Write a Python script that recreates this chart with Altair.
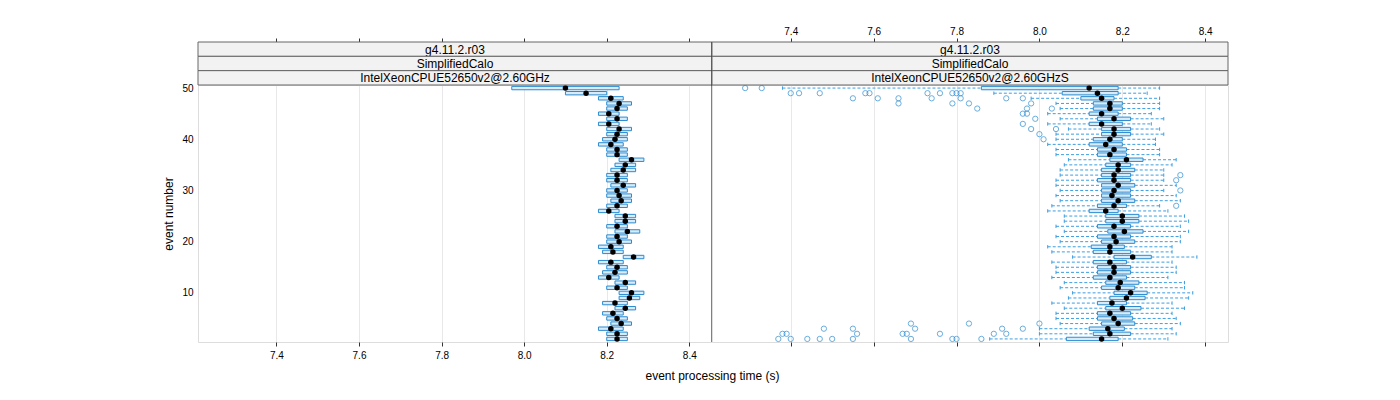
import altair as alt
import pandas as pd

# ---------------- data ----------------
events = list(range(1, 51))

# left panel: IntelXeonCPUE52650v2@2.60GHz  (events 1..50)
left_q1 = [8.20, 8.20, 8.18, 8.21, 8.20, 8.19, 8.22, 8.19, 8.23, 8.23,
           8.20, 8.22, 8.18, 8.19, 8.20, 8.18, 8.24, 8.19, 8.18, 8.20,
           8.20, 8.22, 8.20, 8.22, 8.22, 8.18, 8.20, 8.21, 8.20, 8.20,
           8.21, 8.20, 8.20, 8.21, 8.22, 8.23, 8.20, 8.20, 8.18, 8.19,
           8.20, 8.20, 8.18, 8.20, 8.18, 8.20, 8.20, 8.18, 8.10, 7.97]
left_med = [8.225, 8.225, 8.21, 8.235, 8.225, 8.215, 8.245, 8.22, 8.255, 8.26,
            8.225, 8.245, 8.205, 8.22, 8.225, 8.21, 8.265, 8.215, 8.21, 8.23,
            8.225, 8.25, 8.225, 8.245, 8.245, 8.205, 8.225, 8.235, 8.23, 8.225,
            8.24, 8.225, 8.225, 8.24, 8.245, 8.26, 8.225, 8.225, 8.21, 8.22,
            8.225, 8.23, 8.205, 8.225, 8.205, 8.225, 8.23, 8.21, 8.15, 8.10]
left_q3 = [8.25, 8.25, 8.24, 8.26, 8.25, 8.24, 8.27, 8.25, 8.28, 8.29,
           8.25, 8.27, 8.23, 8.25, 8.25, 8.24, 8.29, 8.24, 8.24, 8.26,
           8.25, 8.28, 8.25, 8.27, 8.27, 8.23, 8.25, 8.26, 8.26, 8.25,
           8.27, 8.25, 8.25, 8.27, 8.27, 8.29, 8.25, 8.25, 8.24, 8.25,
           8.25, 8.26, 8.23, 8.25, 8.23, 8.25, 8.26, 8.24, 8.20, 8.23]

# right panel: IntelXeonCPUE52650v2@2.60GHzS  (events 1..50)
right_lo = [7.88, 8.00, 8.00, 8.05, 8.04, 8.04, 8.06, 8.03, 8.07, 8.08,
            8.05, 8.06, 8.03, 8.04, 8.04, 8.03, 8.08, 8.03, 8.02, 8.05,
            8.04, 8.06, 8.04, 8.06, 8.06, 8.02, 8.03, 8.05, 8.04, 8.05,
            8.04, 8.04, 8.05, 8.05, 8.06, 8.07, 8.04, 8.04, 8.02, 8.04,
            8.04, 8.07, 8.02, 8.05, 8.02, 8.05, 8.04, 7.98, 7.89, 7.38]
right_q1 = [8.065, 8.13, 8.12, 8.15, 8.14, 8.14, 8.16, 8.14, 8.17, 8.18,
            8.15, 8.16, 8.13, 8.14, 8.14, 8.13, 8.18, 8.13, 8.125, 8.15,
            8.14, 8.165, 8.14, 8.16, 8.16, 8.12, 8.14, 8.15, 8.15, 8.15,
            8.15, 8.14, 8.15, 8.15, 8.16, 8.17, 8.14, 8.14, 8.12, 8.13,
            8.15, 8.15, 8.12, 8.14, 8.12, 8.13, 8.13, 8.10, 8.055, 7.86]
right_med = [8.15, 8.17, 8.165, 8.19, 8.18, 8.17, 8.20, 8.175, 8.21, 8.22,
             8.19, 8.195, 8.17, 8.18, 8.18, 8.17, 8.225, 8.17, 8.17, 8.185,
             8.18, 8.205, 8.18, 8.20, 8.20, 8.16, 8.18, 8.19, 8.175, 8.18,
             8.19, 8.18, 8.18, 8.19, 8.19, 8.21, 8.17, 8.18, 8.16, 8.17,
             8.18, 8.18, 8.15, 8.18, 8.15, 8.17, 8.17, 8.15, 8.14, 8.12]
right_q3 = [8.19, 8.22, 8.205, 8.23, 8.225, 8.22, 8.245, 8.21, 8.255, 8.26,
            8.23, 8.24, 8.21, 8.22, 8.22, 8.21, 8.27, 8.22, 8.205, 8.23,
            8.22, 8.25, 8.22, 8.24, 8.24, 8.19, 8.21, 8.23, 8.22, 8.22,
            8.23, 8.22, 8.22, 8.23, 8.22, 8.25, 8.21, 8.21, 8.20, 8.20,
            8.22, 8.22, 8.20, 8.22, 8.19, 8.20, 8.20, 8.18, 8.19, 8.19]
right_hi = [8.31, 8.33, 8.32, 8.34, 8.33, 8.32, 8.35, 8.32, 8.36, 8.37,
            8.35, 8.35, 8.31, 8.33, 8.33, 8.32, 8.38, 8.32, 8.32, 8.34,
            8.34, 8.36, 8.34, 8.36, 8.35, 8.31, 8.29, 8.34, 8.33, 8.30,
            8.33, 8.30, 8.30, 8.30, 8.32, 8.33, 8.29, 8.29, 8.28, 8.28,
            8.30, 8.29, 8.27, 8.30, 8.27, 8.29, 8.29, 8.29, 8.26, 8.29]

outlier_event = ([1] * 10 + [2] * 8 + [3] * 5 + [4] * 3 + [27, 30, 32, 33]
                 + [40, 41, 42, 42, 43, 44, 45, 45] + [46] * 3 + [47] * 4
                 + [48] * 7 + [49] * 10 + [50] * 2)
outlier_time = ([7.37, 7.40, 7.44, 7.47, 7.50, 7.55, 7.69, 7.79, 7.80, 7.86]
                + [7.38, 7.39, 7.56, 7.67, 7.68, 7.76, 7.89, 7.92]
                + [7.48, 7.55, 7.70, 7.91, 7.96]
                + [7.69, 7.83, 8.00]
                + [8.33, 8.34, 8.33, 8.34]
                + [8.01, 8.00, 7.98, 8.04, 7.96, 7.99, 7.96, 7.97]
                + [7.85, 7.97, 8.03]
                + [7.66, 7.79, 7.83, 7.98]
                + [7.55, 7.61, 7.66, 7.74, 7.81, 7.92, 7.96]
                + [7.40, 7.42, 7.47, 7.58, 7.59, 7.73, 7.76, 7.79, 7.80, 7.81]
                + [7.29, 7.33])

x_ticks = [7.4, 7.6, 7.8, 8.0, 8.2, 8.4]
y_ticks = [10, 20, 30, 40, 50]
strips_left = ["g4.11.2.r03", "SimplifiedCalo", "IntelXeonCPUE52650v2@2.60GHz"]
strips_right = ["g4.11.2.r03", "SimplifiedCalo", "IntelXeonCPUE52650v2@2.60GHzS"]
x_title = "event processing time (s)"
y_title = "event number"

# ---------------- styling ----------------
FONT = "Liberation Sans"
H = 257
W_L = 514
W_R = 516
STRIP_H = 14.33
BOX_STROKE = "#2a8bd0"
BOX_FILL = "#d9ebf8"
WHISK = "#3d9ee0"
GRAY = "#8c8c8c"

xs = alt.Scale(domain=[7.21, 8.455], nice=False, zero=False)
ys = alt.Scale(domain=[0.4, 50.6], nice=False, zero=False)

df_left = pd.DataFrame({"event": events, "q1": left_q1, "med": left_med, "q3": left_q3})
df_right = pd.DataFrame({"event": events, "lo": right_lo, "q1": right_q1, "med": right_med,
                         "q3": right_q3, "hi": right_hi})
df_out = pd.DataFrame({"event": outlier_event, "t": outlier_time})


def x_axis(orient, labels, title=None, grid=False):
    kw = dict(orient=orient, values=x_ticks, labels=labels, ticks=True, tickSize=4,
              tickColor="#333333", domain=False, grid=grid, gridColor="#e8e8e8",
              labelFontSize=10, labelColor="#000000", format=".1f", labelFont=FONT)
    if orient == "top":
        kw["offset"] = 43
        kw["labelPadding"] = 2
    else:
        kw["labelPadding"] = 4
    if title:
        kw.update(title=title, titleX=W_L, titleY=28, titleBaseline="top",
                  titleFontSize=12, titleFontWeight="normal", titleFont=FONT,
                  titleColor="#000000")
    else:
        kw["title"] = None
    return alt.Axis(**kw)


def panel(df, width, strips, left, whiskers):
    layers = []
    if whiskers:
        base = alt.Chart(df).transform_calculate(ylo="datum.event - 0.33",
                                                 yhi="datum.event + 0.33")
        layers.append(base.mark_rule(color=WHISK, strokeDash=[3, 2], strokeWidth=1).encode(
            x=alt.X("lo:Q", scale=xs, axis=None), x2="q1:Q",
            y=alt.Y("event:Q", scale=ys, axis=None)))
        layers.append(base.mark_rule(color=WHISK, strokeDash=[3, 2], strokeWidth=1).encode(
            x=alt.X("q3:Q", scale=xs, axis=None), x2="hi:Q",
            y=alt.Y("event:Q", scale=ys, axis=None)))
        layers.append(base.mark_rule(color=WHISK, strokeWidth=1).encode(
            x=alt.X("lo:Q", scale=xs, axis=None),
            y=alt.Y("ylo:Q", scale=ys, axis=None), y2="yhi:Q"))
        layers.append(base.mark_rule(color=WHISK, strokeWidth=1).encode(
            x=alt.X("hi:Q", scale=xs, axis=None),
            y=alt.Y("ylo:Q", scale=ys, axis=None), y2="yhi:Q"))

    y_axis = None
    if left:
        y_axis = alt.Axis(values=y_ticks, ticks=False, domain=False, grid=False,
                          labelFontSize=10, labelColor="#000000", labelPadding=5,
                          labelFont=FONT, title=y_title, titleFontSize=12,
                          titleFontWeight="normal", titleFont=FONT, titlePadding=6,
                          titleColor="#000000")
    boxes = alt.Chart(df).transform_calculate(
        ylo="datum.event - 0.33", yhi="datum.event + 0.33"
    ).mark_rect(fill=BOX_FILL, stroke=BOX_STROKE, strokeWidth=1).encode(
        x=alt.X("q1:Q", scale=xs,
                axis=x_axis("bottom", labels=left, title=x_title if left else None, grid=True)),
        x2="q3:Q",
        y=alt.Y("ylo:Q", scale=ys, axis=y_axis), y2="yhi:Q")
    layers.insert(0, boxes)

    if whiskers:
        layers.append(alt.Chart(df_out).mark_point(shape="circle", filled=False, size=28,
                                                   color=BOX_STROKE, strokeWidth=1).encode(
            x=alt.X("t:Q", scale=xs, axis=None),
            y=alt.Y("event:Q", scale=ys, axis=None)))

    layers.append(alt.Chart(df).mark_circle(color="#000000", size=30, opacity=1).encode(
        x=alt.X("med:Q", scale=xs, axis=x_axis("top", labels=not left)),
        y=alt.Y("event:Q", scale=ys, axis=None)))

    # strips
    for i, lab in enumerate(strips):
        top = -3 * STRIP_H + i * STRIP_H
        sdf = pd.DataFrame({"label": [lab]})
        layers.append(alt.Chart(sdf).mark_rect(fill="#f2f2f2", stroke="#666666",
                                               strokeWidth=1).encode(
            x=alt.value(0), x2=alt.value(width),
            y=alt.value(top), y2=alt.value(top + STRIP_H)))
        layers.append(alt.Chart(sdf).mark_text(font=FONT, fontSize=12, color="#000000",
                                               baseline="middle", align="center").encode(
            x=alt.value(width / 2), y=alt.value(top + STRIP_H / 2 + 0.5), text="label:N"))

    if left:
        layers.append(alt.Chart(pd.DataFrame({"a": [0]})).mark_rule(
            color="#000000", strokeWidth=1).encode(
            x=alt.value(width), y=alt.value(-3 * STRIP_H), y2=alt.value(H)))

    return alt.layer(*layers).resolve_axis(x="independent", y="independent").properties(
        width=width, height=H)


left_panel = panel(df_left, W_L, strips_left, True, False)
right_panel = panel(df_right, W_R, strips_right, False, True)

chart = alt.hconcat(left_panel, right_panel, spacing=0, bounds="flush").properties(
    padding={"left": 162, "top": 25, "right": 10, "bottom": 10}
).configure_view(stroke=GRAY, strokeWidth=1).configure(font=FONT, background="white")

chart.save("out.html", embed_options={"renderer": "svg", "actions": False})
